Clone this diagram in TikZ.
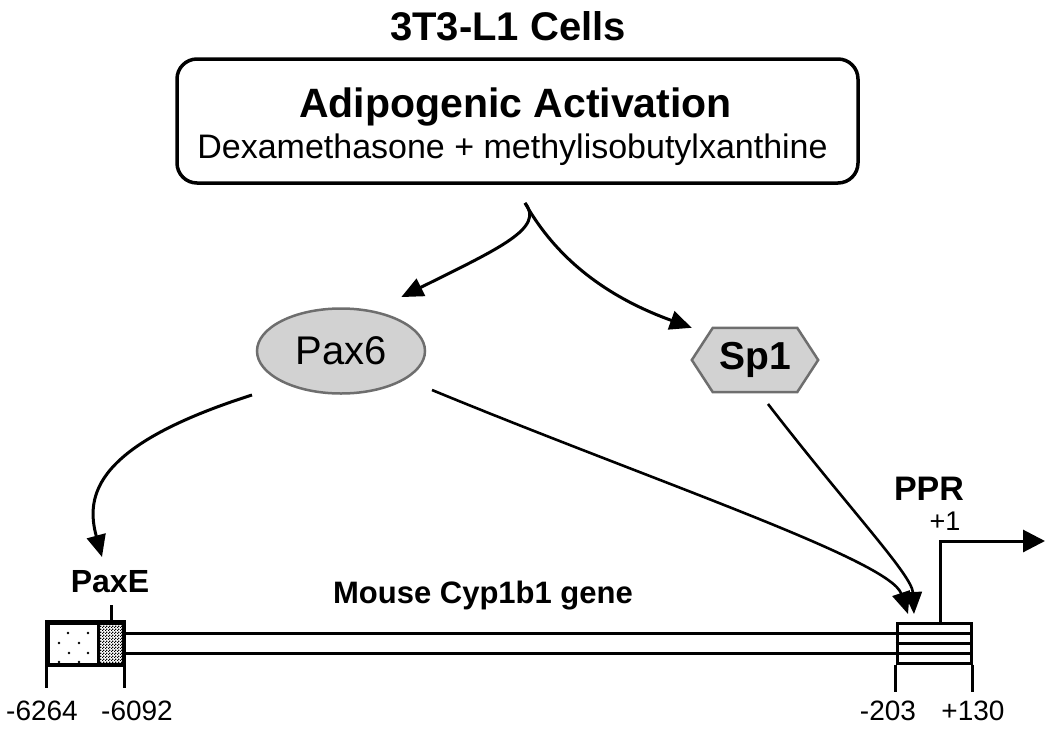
\documentclass[tikz,border=0pt]{standalone}
\usepackage{fontspec}
\setmainfont{Liberation Sans}
\usetikzlibrary{shapes.geometric,arrows.meta,patterns,calc}
\definecolor{protfill}{HTML}{D2D2D2}
\definecolor{protline}{HTML}{6E6E6E}
\newcommand\myfs[1]{\fontsize{#1}{#1}\selectfont}
\pgfdeclarepatternformonly{checker}{\pgfpointorigin}{\pgfpoint{3pt}{3pt}}{\pgfpoint{3pt}{3pt}}{%
  \pgfpathrectangle{\pgfpointorigin}{\pgfpoint{1.6pt}{1.6pt}}%
  \pgfpathrectangle{\pgfpoint{1.5pt}{1.5pt}}{\pgfpoint{1.5pt}{1.5pt}}%
  \pgfusepath{fill}}
\begin{document}
\begin{tikzpicture}[x=1pt,y=-1pt,
  arr/.style={line width=3pt,-{Triangle[length=22pt,width=19pt]}},
  thinarr/.style={line width=2.6pt,-{Triangle[length=22pt,width=18pt]}},
  prot/.style={draw=protline,fill=protfill,line width=2.5pt,inner sep=0pt},
  lbl/.style={anchor=base,inner sep=0pt},
  gline/.style={line width=3pt},
]
\useasboundingbox (0,0) rectangle (1050,732);

% top
\node[lbl,font=\myfs{40}\bfseries] (title) at (508,40) {3T3-L1 Cells};
\node[draw,line width=3.5pt,rounded corners=20pt,minimum width=681pt,minimum height=124pt] (box) at (517.5,121) {};
\node[lbl,font=\myfs{41}\bfseries] (act) at (515.5,117) {Adipogenic Activation};
\node[lbl,font=\myfs{34}] (dex) at (512.5,158) {Dexamethasone + methylisobutylxanthine};

% proteins
\node[ellipse,prot,minimum width=168pt,minimum height=85pt,font=\myfs{40}] (pax6) at (341,351) {Pax6};
\node[inner sep=0pt,minimum width=126pt,minimum height=64pt] (sp1) at (755,360) {};
\draw[prot] (sp1.west) -- ($(sp1.north west)+(21,0)$) -- ($(sp1.north east)+(-21,0)$) -- (sp1.east)
  -- ($(sp1.south east)+(-21,0)$) -- ($(sp1.south west)+(21,0)$) -- cycle;
\node[font=\myfs{39}\bfseries,inner sep=0pt] (sp1t) at (sp1.center) {Sp1};

% branch arrows
\coordinate (branch) at (525,203);
\coordinate (pax6in) at ([yshift=23pt]pax6.north east);
\coordinate (sp1in) at (sp1.north west);
\draw[arr] (branch) .. controls (560,265) and (615,300) .. (sp1in);
\draw[arr] (branch) .. controls (545,228) and (500,248) .. (pax6in);

% gene
\node[draw,line width=3pt,minimum width=75pt,minimum height=41pt,inner sep=0pt] (paxe) at (85.5,643.5) {};
\fill[pattern=checker] (98,623) rectangle (123,664);
\foreach \p in {(68,633),(88,633),(59,643),(79,643),(69,653),(88,653),(59,662),(79,662)}
  \fill \p circle (1.3pt);
\draw[gline] (paxe.north west) rectangle (paxe.south east);
\draw[gline] (98,623) -- (98,664);
\node[draw,line width=3pt,minimum width=74pt,minimum height=40pt,inner sep=0pt] (ppr) at (934,643) {};
\draw[gline] (paxe.east |- 0,633) -- (ppr.west |- 0,633);
\draw[gline] (paxe.east |- 0,653) -- (ppr.west |- 0,653);
\foreach \yy in {633,643,653} \draw[gline] (ppr.west |- 0,\yy) -- (ppr.east |- 0,\yy);

% ticks
\draw[gline] (111,605) -- (111,623);
\draw[gline] (paxe.south west) -- ++(0,22);
\draw[gline] (paxe.south east) -- ++(0,22);
\draw[gline] (ppr.south west) -- ++(0,27);
\draw[gline] (ppr.south east) -- ++(0,27);

% transcription start
\coordinate (tss) at (940,623);
\coordinate (tssend) at (1045,541);
\draw[line width=3pt,-{Triangle[length=22pt,width=22pt]}] (tss) |- (tssend);

% regulatory arrows
\coordinate (p6a) at (252,395);
\coordinate (paxetip) at (102,557);
\coordinate (p6b) at (432,390);
\coordinate (pprtipA) at (908,614);
\coordinate (sp1b) at (768,404);
\coordinate (pprtipB) at (914,614);
\draw[arr] (p6a) .. controls (95,445) and (85,495) .. (paxetip);
\draw[thinarr] (p6b) .. controls (650,480) and (890,560) .. (pprtipA);
\draw[thinarr] (sp1b) .. controls (850,510) and (912,575) .. (pprtipB);

% labels
\node[lbl,font=\myfs{32}\bfseries] (paxel) at (110,592) {PaxE};
\node[lbl,font=\myfs{31}\bfseries] (genel) at (483,603) {Mouse Cyp1b1 gene};
\node[lbl,font=\myfs{34}\bfseries] (pprl) at (929,500) {PPR};
\node[lbl,font=\myfs{27}] (plus1) at (945,530) {+1};
\node[lbl,font=\myfs{28}] (n1) at (42,720) {-6264};
\node[lbl,font=\myfs{28}] (n2) at (137,720) {-6092};
\node[lbl,font=\myfs{28}] (n3) at (888,720) {-203};
\node[lbl,font=\myfs{28}] (n4) at (973,720) {+130};
\end{tikzpicture}
\end{document}
